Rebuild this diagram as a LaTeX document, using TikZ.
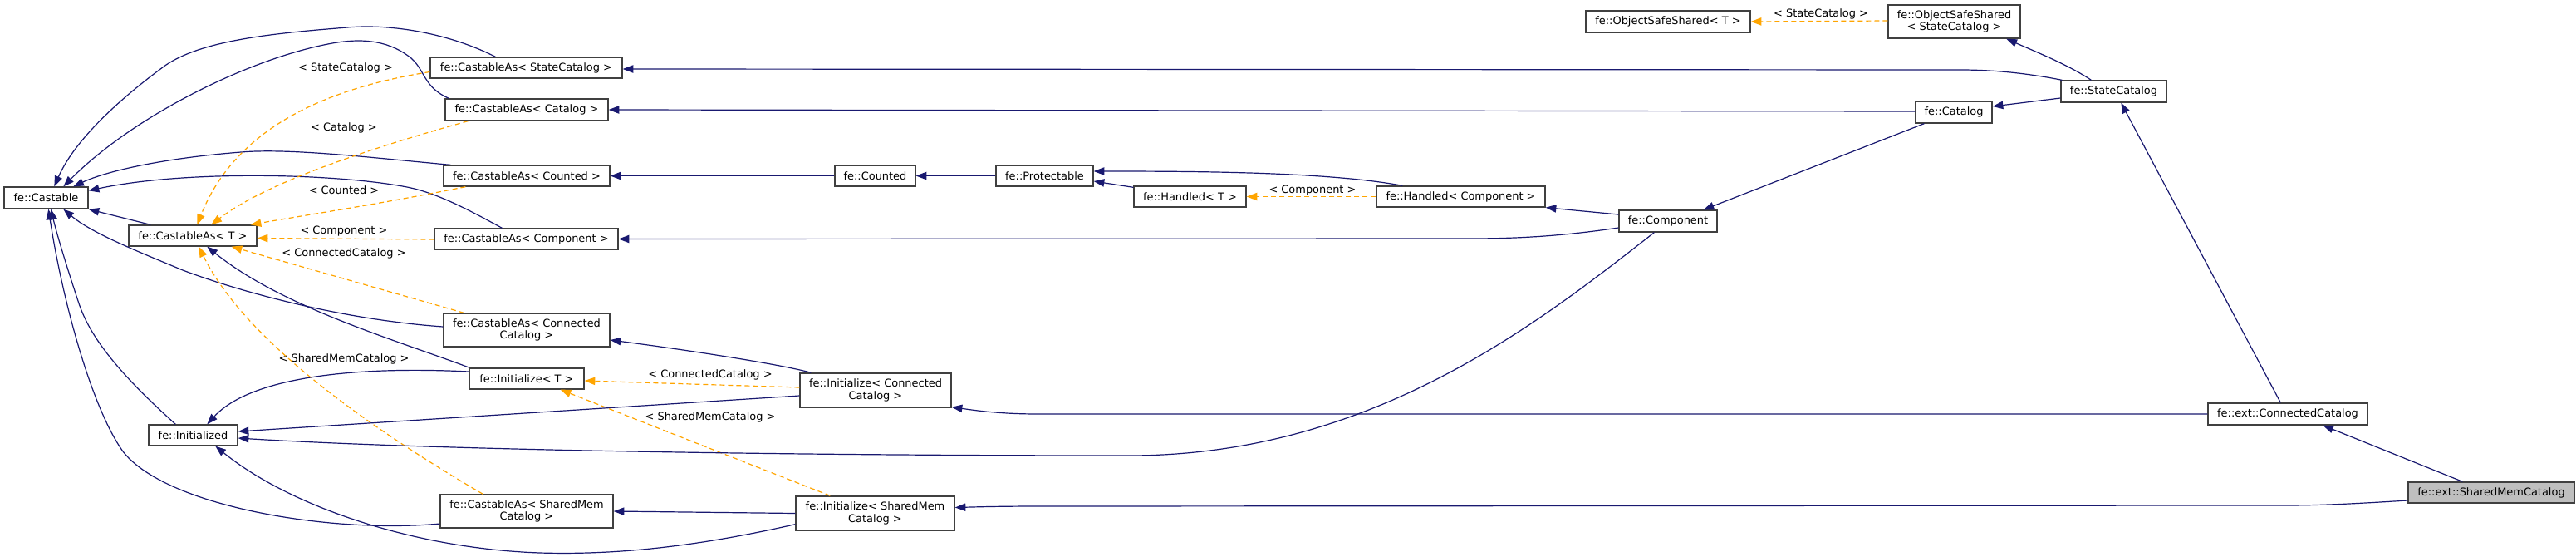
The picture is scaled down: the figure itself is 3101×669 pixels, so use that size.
\documentclass[tikz,border=0pt]{standalone}
\usepackage{fontspec}
\setmainfont{DejaVu Sans}
\usetikzlibrary{arrows.meta,calc}
\definecolor{navy}{HTML}{191970}
\definecolor{orng}{HTML}{FFA500}
\definecolor{bord}{HTML}{404040}
\definecolor{selgray}{HTML}{BFBFBF}
\begin{document}
\begin{tikzpicture}[x=0.75pt,y=-0.75pt,
  box/.style={draw=bord,line width=1pt,fill=white,inner sep=0pt,align=center,font=\fontsize{9.7}{11}\selectfont},
  bx/.style 2 args={minimum width=#1*0.75pt,minimum height=#2*0.75pt},
  inh/.style={draw=navy,line width=0.9pt,-{Triangle[length=9.5pt,width=7pt]}},
  tmpl/.style={draw=orng,line width=0.9pt,dash pattern=on 4.5pt off 3pt,-{Triangle[length=9.5pt,width=7pt]}},
  lbl/.style={font=\fontsize{9.7}{11}\selectfont,inner sep=0pt}]
\fill[white] (0,0) rectangle (3101,669);
\useasboundingbox (0,0) rectangle (3101,669);

% nodes
\node[box,bx={101}{26}] (castable) at (55.5,238) {fe::Castable};
\node[box,bx={154}{25}] (casT) at (232,283.5) {fe::CastableAs< T >};
\node[box,bx={107}{25}] (initd) at (232.5,523.5) {fe::Initialized};
\node[box,bx={231}{25}] (casSC) at (633.5,81.5) {fe::CastableAs< StateCatalog >};
\node[box,bx={196}{26}] (casCat) at (634,132) {fe::CastableAs< Catalog >};
\node[box,bx={200}{25}] (casCnt) at (634,211.5) {fe::CastableAs< Counted >};
\node[box,bx={221}{25}] (casCmp) at (633.5,287.5) {fe::CastableAs< Component >};
\node[box,bx={200}{40}] (casCC) at (634,397) {fe::CastableAs< Connected\\Catalog >};
\node[box,bx={138}{25}] (initT) at (634,455.5) {fe::Initialize< T >};
\node[box,bx={208}{40}] (casSM) at (634,615) {fe::CastableAs< SharedMem\\Catalog >};
\node[box,bx={182}{41}] (initCC) at (1054,469.5) {fe::Initialize< Connected\\Catalog >};
\node[box,bx={191}{41}] (initSM) at (1053.5,617.5) {fe::Initialize< SharedMem\\Catalog >};
\node[box,bx={97}{25}] (counted) at (1053.5,211.5) {fe::Counted};
\node[box,bx={117}{25}] (prot) at (1257.5,211.5) {fe::Protectable};
\node[box,bx={135}{25}] (handT) at (1432.5,236.5) {fe::Handled< T >};
\node[box,bx={203}{25}] (handC) at (1758.5,236.5) {fe::Handled< Component >};
\node[box,bx={118}{26}] (comp) at (2008,266) {fe::Component};
\node[box,bx={198}{26}] (oshT) at (2008,26) {fe::ObjectSafeShared< T >};
\node[box,bx={159}{40}] (oshSC) at (2352.5,26) {fe::ObjectSafeShared\\< StateCatalog >};
\node[box,bx={127}{26}] (stcat) at (2544.5,110) {fe::StateCatalog};
\node[box,bx={92}{26}] (catalog) at (2352,135) {fe::Catalog};
\node[box,bx={192}{26}] (conn) at (2754,498) {fe::ext::ConnectedCatalog};
\node[box,bx={200}{25},fill=selgray] (shm) at (2999,592.5) {fe::ext::SharedMemCatalog};

% labels
\node[lbl] (l1) at (416,82) {< StateCatalog >};
\node[lbl] (l2) at (414,154) {< Catalog >};
\node[lbl] (l3) at (414,229) {< Counted >};
\node[lbl] (l4) at (414,278) {< Component >};
\node[lbl] (l5) at (414,305) {< ConnectedCatalog >};
\node[lbl] (l6) at (414,432) {< SharedMemCatalog >};
\node[lbl] (l7) at (855,451) {< ConnectedCatalog >};
\node[lbl] (l8) at (855,502) {< SharedMemCatalog >};
\node[lbl] (l9) at (1580,229) {< Component >};
\node[lbl] (l10) at (2192,17) {< StateCatalog >};

% inheritance edges into fe::Castable
\draw[inh] ($(casSC.north west)+(79,0)$) .. controls (545,42) and (475,28) .. (418,33)
  .. controls (330,40) and (245,48) .. (200,78) .. controls (145,118) and (90,168) .. ($(castable.north west)+(61,0)$);
\draw[inh] ($(casCat.north west)+(5,0)$) .. controls (510,105) and (512,85) .. (495,70)
  .. controls (470,50) and (440,45) .. (400,52) .. controls (300,70) and (160,140) .. ($(castable.north west)+(72,0)$);
\draw[inh] ($(casCnt.north west)+(9,0)$) .. controls (450,190) and (350,178) .. (290,183)
  .. controls (200,190) and (130,205) .. ($(castable.north west)+(84,0)$);
\draw[inh] ($(casCmp.north west)+(82,0)$) .. controls (560,250) and (525,232) .. (490,225)
  .. controls (400,208) and (220,205) .. ($(castable.north east)+(0,5)$);
\draw[inh] ($(casT.north west)+(27,0)$) -- (castable.south east);
\draw[inh] ($(casCC.west)+(0,-4)$) .. controls (420,385) and (300,355) .. (220,325)
  .. controls (160,300) and (110,280) .. ($(castable.south west)+(72,0)$);
\draw[inh] ($(initd.north west)+(33,0)$) .. controls (150,455) and (110,410) .. (95,365)
  .. controls (80,320) and (68,280) .. ($(castable.south west)+(57,0)$);
\draw[inh] ($(casSM.west)+(0,15)$) .. controls (400,642) and (200,610) .. (148,543)
  .. controls (110,490) and (75,360) .. ($(castable.south west)+(54,0)$);

% into fe::CastableAs< T >
\draw[inh] ($(initT.north west)+(1,0)$) .. controls (480,410) and (340,370) .. ($(casT.south west)+(95,0)$);
\draw[tmpl] ($(casSC.west)+(0,5)$) .. controls (400,105) and (285,150) .. ($(casT.north west)+(83,0)$);
\draw[tmpl] ($(casCat.south west)+(28,0)$) .. controls (440,180) and (320,220) .. ($(casT.north west)+(100,0)$);
\draw[tmpl] ($(casCnt.south west)+(27,0)$) .. controls (460,245) and (360,260) .. ($(casT.north east)+(-8,0)$);
\draw[tmpl] ($(casCmp.west)+(0,0.5)$) -- ($(casT.east)+(0,3)$);
\draw[tmpl] ($(casCC.north west)+(25,0)$) -- ($(casT.south east)+(-31,0)$);
\draw[tmpl] ($(casSM.north west)+(52,0)$) .. controls (420,500) and (290,400) .. ($(casT.south west)+(85,0)$);

% into fe::Initialize< T >
\draw[tmpl] ($(initCC.west)+(0,-3.5)$) -- ($(initT.east)+(0,2.5)$);
\draw[tmpl] ($(initSM.north west)+(42,0)$) -- ($(initT.south east)+(-29,0)$);

% into fe::Initialized
\draw[inh] ($(initT.west)+(0,-8.5)$) .. controls (420,440) and (300,455) .. ($(initd.north west)+(71,0)$);
\draw[inh] ($(initCC.west)+(0,6.5)$) -- ($(initd.east)+(0,-4.5)$);
\draw[inh] ($(comp.south west)+(43,0)$) .. controls (1850,390) and (1650,548) .. (1359,548)
  .. controls (900,548) and (500,540) .. ($(initd.east)+(0,3.5)$);
\draw[inh] ($(initSM.south west)+(0,-8)$) .. controls (850,655) and (750,668) .. (650,665)
  .. controls (500,660) and (350,610) .. ($(initd.south west)+(81,0)$);

% others
\draw[inh] ($(initCC.north west)+(14,0)$) .. controls (940,438) and (820,420) .. ($(casCC.east)+(0,12)$);
\draw[inh] (initSM.west) -- (casSM.east);
\draw[inh] (conn.west) -- (1250,498) .. controls (1200,498) and (1170,493) .. ($(initCC.south east)+(0,-1)$);
\draw[inh] ($(shm.west)+(0,9.5)$) .. controls (2850,605) and (2800,608) .. (2750,608) -- (1250,609)
  .. controls (1200,609) and (1170,610) .. ($(initSM.east)+(0,-7)$);
\draw[inh] ($(stcat.west)+(0,8)$) -- ($(catalog.east)+(0,-7)$);
\draw[inh] ($(catalog.west)+(0,-1)$) -- (casCat.east);
\draw[inh] ($(stcat.north west)+(2,0)$) .. controls (2440,88) and (2400,84) .. (2360,84) -- ($(casSC.east)+(0,1.5)$);
\draw[inh] (counted.west) -- (casCnt.east);
\draw[inh] (prot.west) -- (counted.east);
\draw[inh] ($(handT.north west)+(0,2)$) -- ($(prot.east)+(0,6.5)$);
\draw[inh] ($(handC.north west)+(32,0)$) .. controls (1600,207) and (1450,206) .. ($(prot.east)+(0,-5.5)$);
\draw[tmpl] (handC.west) -- (handT.east);
\draw[inh] ($(comp.west)+(0,-8)$) -- (handC.south east);
\draw[inh] ($(comp.west)+(0,8)$) .. controls (1880,284) and (1830,287) .. (1767,287) -- (casCmp.east);
\draw[inh] ($(catalog.south west)+(11,0)$) -- ($(comp.north east)+(-17,0)$);
\draw[inh] ($(stcat.north west)+(37,0)$) .. controls (2490,78) and (2450,62) .. ($(oshSC.south west)+(143,0)$);
\draw[tmpl] ($(oshSC.west)+(0,-1)$) -- (oshT.east);
\draw[inh] ($(conn.north west)+(88,0)$) -- ($(stcat.south west)+(73,0)$);
\draw[inh] ($(shm.north west)+(66,0)$) -- ($(conn.south west)+(139,0)$);
\end{tikzpicture}
\end{document}
